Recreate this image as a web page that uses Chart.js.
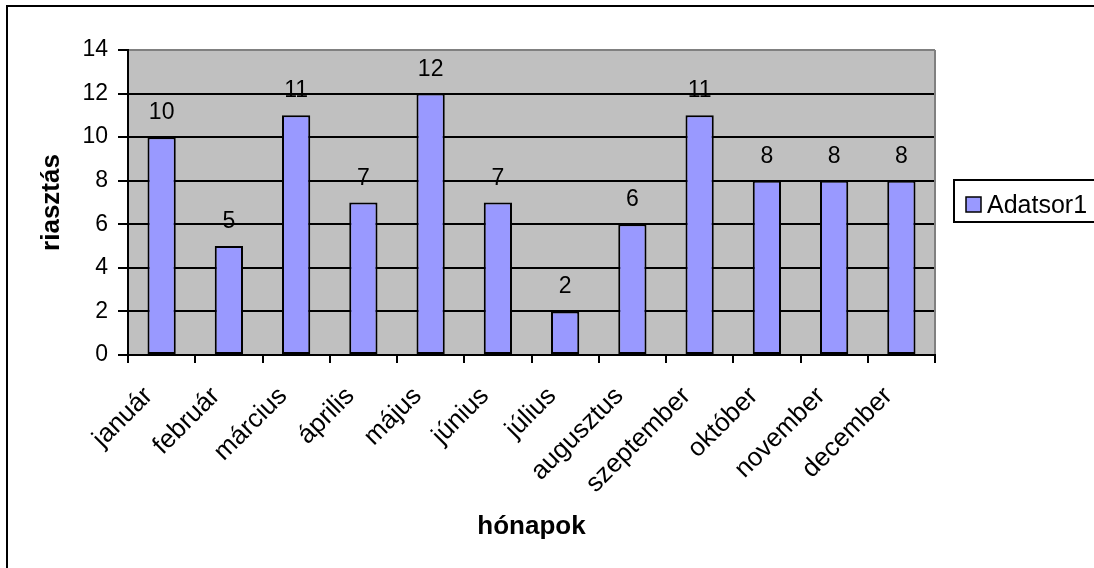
<!DOCTYPE html>
<html><head><meta charset="utf-8">
<script src="https://cdn.jsdelivr.net/npm/chart.js@4/dist/chart.umd.min.js"></script>
<style>html,body{margin:0;padding:0;background:#fff;overflow:hidden;} #wrap{position:relative;width:1094px;height:568px;}</style>
</head><body><div id="wrap"><canvas id="c" width="1094" height="568"></canvas></div>
<script>
const categories = ['január','február','március','április','május','június','július','augusztus','szeptember','október','november','december'];
const values = [10, 5, 11, 7, 12, 7, 2, 6, 11, 8, 8, 8];
const seriesName = 'Adatsor1';
const yTickValues = [0, 2, 4, 6, 8, 10, 12, 14];
const xTitle = 'hónapok';
const yTitle = 'riasztás';

const FONT = "'Liberation Sans', Arial, sans-serif";
const BAR_FILL = '#9999FF';

const chartPlugin = {
  id: 'excelLook',
  beforeDraw(chart) {
    const {ctx, chartArea: a} = chart;
    ctx.save();
    ctx.fillStyle = '#ffffff';
    ctx.fillRect(0, 0, chart.width, chart.height);
    ctx.fillStyle = '#C0C0C0';
    ctx.fillRect(a.left, a.top, a.right - a.left, a.bottom - a.top);
    ctx.restore();
  },
  afterDatasetsDraw(chart) {
    const {ctx} = chart;
    const meta = chart.getDatasetMeta(0);
    ctx.save();
    ctx.fillStyle = '#000';
    ctx.font = '23px ' + FONT;
    ctx.textAlign = 'center';
    ctx.textBaseline = 'alphabetic';
    meta.data.forEach((bar, i) => {
      ctx.fillText(String(chart.data.datasets[0].data[i]), bar.x, bar.y - 18);
    });
    ctx.restore();
  },
  afterDraw(chart) {
    const {ctx, chartArea: a} = chart;
    ctx.save();
    // plot area right border
    ctx.strokeStyle = '#808080';
    ctx.lineWidth = 2;
    ctx.beginPath();
    ctx.moveTo(a.right, a.top);
    ctx.lineTo(a.right, a.bottom - 1);
    ctx.stroke();
    // legend
    const lx = 954, ly = 180, lw = 150, lh = 42;
    ctx.fillStyle = '#fff';
    ctx.fillRect(lx, ly, lw, lh);
    ctx.strokeStyle = '#000';
    ctx.lineWidth = 2;
    ctx.strokeRect(lx, ly, lw, lh);
    ctx.fillStyle = BAR_FILL;
    ctx.fillRect(966, 197, 15, 15);
    ctx.lineWidth = 1.5;
    ctx.strokeRect(966, 197, 15, 15);
    ctx.fillStyle = '#000';
    ctx.font = '25px ' + FONT;
    ctx.textAlign = 'left';
    ctx.textBaseline = 'alphabetic';
    ctx.fillText(chart.data.datasets[0].label, 987, 213);
    // outer chart border
    ctx.fillStyle = '#000';
    ctx.fillRect(6, 5, 2, chart.height - 5);
    ctx.fillRect(6, 5, chart.width - 6, 2);
    ctx.restore();
  }
};

new Chart(document.getElementById('c'), {
  type: 'bar',
  data: {
    labels: categories,
    datasets: [{
      label: seriesName,
      data: values,
      backgroundColor: BAR_FILL,
      borderColor: '#000',
      borderWidth: 2,
      borderSkipped: false,
      barPercentage: 0.42,
      categoryPercentage: 1.0
    }]
  },
  options: {
    responsive: false,
    devicePixelRatio: 1,
    animation: false,
    layout: { padding: { left: 20, top: 50, right: 159, bottom: 20 } },
    plugins: { legend: { display: false }, tooltip: { enabled: false } },
    scales: {
      x: {
        type: 'category',
        offset: true,
        grid: { display: true, offset: true, drawOnChartArea: false, drawTicks: true, tickLength: 8, color: '#000', lineWidth: 2 },
        border: { display: true, color: '#000', width: 2 },
        ticks: { autoSkip: false, minRotation: 45, maxRotation: 45, padding: 18, labelOffset: -13, color: '#000', font: { family: FONT, size: 26 } },
        title: { display: true, text: xTitle, color: '#000', font: { family: FONT, size: 26, weight: 'bold' }, padding: { top: 0, bottom: 6 } },
        afterFit(scale) { scale.height = 193; }
      },
      y: {
        min: 0, max: 14,
        afterBuildTicks(scale) { scale.ticks = yTickValues.map(v => ({ value: v })); },
        grid: {
          color: ctx => (ctx.tick && ctx.tick.value === 14) ? '#808080' : '#000',
          tickColor: '#000',
          lineWidth: 2, drawTicks: true, tickLength: 10
        },
        border: { display: true, color: '#000', width: 2 },
        ticks: { padding: 10, color: '#000', font: { family: FONT, size: 23 } },
        title: { display: true, text: yTitle, color: '#000', font: { family: FONT, size: 26, weight: 'bold' }, padding: { top: 16, bottom: 0 } },
        afterFit(scale) { scale.width = 108; }
      }
    }
  },
  plugins: [chartPlugin]
});
</script>
</body></html>
